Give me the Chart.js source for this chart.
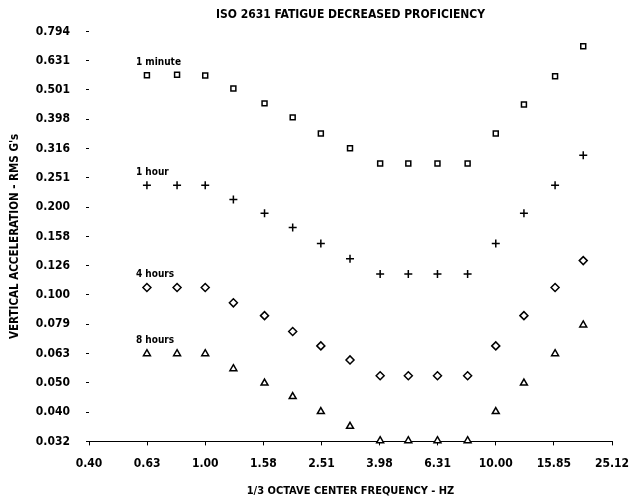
<!DOCTYPE html>
<html>
<head>
<meta charset="utf-8">
<script src="https://cdn.jsdelivr.net/npm/chart.js@4/dist/chart.umd.min.js"></script>
<style>
    html, body { margin: 0; padding: 0; background: #fff; }
    #wrap { width: 634px; height: 500px; }
</style>
</head>
<body>
<div id="wrap"><canvas id="fdp"></canvas></div>
<script>
// 1/3 octave centre frequencies (Hz)
const frequencies = [0.63, 0.8, 1.0, 1.25, 1.6, 2.0, 2.5, 3.15, 4.0, 5.0, 6.3, 8.0, 10.0, 12.5, 16.0, 20.0];

// exposure limits, RMS G's
const oneMinute = [0.563, 0.565, 0.562, 0.507, 0.451, 0.404, 0.356, 0.317, 0.281, 0.281, 0.281, 0.281, 0.356, 0.447, 0.558, 0.707];
const oneHour = [0.237, 0.237, 0.237, 0.212, 0.190, 0.170, 0.150, 0.133, 0.118, 0.118, 0.118, 0.118, 0.150, 0.190, 0.237, 0.300];
const fourHours = [0.106, 0.106, 0.106, 0.094, 0.085, 0.075, 0.067, 0.060, 0.053, 0.053, 0.053, 0.053, 0.067, 0.085, 0.106, 0.131];
const eightHours = [0.063, 0.063, 0.063, 0.056, 0.050, 0.045, 0.040, 0.0356, 0.0318, 0.0318, 0.0318, 0.0318, 0.040, 0.050, 0.063, 0.079];

const seriesNames = ['1 minute', '1 hour', '4 hours', '8 hours'];

// axis ticks
const xTickValues = [0.3981, 0.631, 1.0, 1.585, 2.512, 3.981, 6.31, 10.0, 15.85, 25.12];
const xTickLabels = ['0.40', '0.63', '1.00', '1.58', '2.51', '3.98', '6.31', '10.00', '15.85', '25.12'];
const yTickValues = [0.03162, 0.03981, 0.05012, 0.0631, 0.07943, 0.1, 0.1259, 0.1585, 0.1995, 0.2512, 0.3162, 0.3981, 0.5012, 0.631, 0.7943];
const yTickLabels = ['0.032', '0.040', '0.050', '0.063', '0.079', '0.100', '0.126', '0.158', '0.200', '0.251', '0.316', '0.398', '0.501', '0.631', '0.794'];

const FONT = '"DejaVu Sans Condensed", "Liberation Sans Narrow", "DejaVu Sans", sans-serif';

class FatigueChart {
    constructor(canvasId) {
        this.canvas = document.getElementById(canvasId);
        this.init();
    }

    init() {
        const styles = [
            { pointStyle: 'rect', radius: 3.5 },
            { pointStyle: 'cross', radius: 4 },
            { pointStyle: 'rectRot', radius: 4 },
            { pointStyle: 'triangle', radius: 4 }
        ];
        const values = [oneMinute, oneHour, fourHours, eightHours];

        const datasets = values.map((series, i) => ({
            label: seriesNames[i],
            data: series.map((v, j) => ({ x: frequencies[j], y: v })),
            showLine: false,
            pointStyle: styles[i].pointStyle,
            pointRadius: styles[i].radius,
            pointBorderWidth: 1.5,
            pointBorderColor: '#000',
            pointBackgroundColor: '#fff',
            clip: false
        }));

        new Chart(this.canvas, {
            type: 'scatter',
            data: { datasets },
            options: {
                responsive: true,
                maintainAspectRatio: false,
                animation: false,
                layout: { padding: { left: 4, right: 22, top: 0, bottom: 2 } },
                plugins: {
                    legend: { display: false },
                    tooltip: { enabled: false },
                    title: {
                        display: true,
                        fullSize: false,
                        text: 'ISO 2631 FATIGUE DECREASED PROFICIENCY',
                        color: '#000',
                        font: { family: FONT, size: 12, weight: 'bold' },
                        padding: { top: 8, bottom: 9 }
                    }
                },
                scales: {
                    x: {
                        type: 'logarithmic',
                        min: xTickValues[0],
                        max: xTickValues[xTickValues.length - 1],
                        afterBuildTicks: scale => {
                            scale.ticks = xTickValues.map(v => ({ value: v }));
                        },
                        afterFit: scale => {
                            // let the last tick label hang into the right margin
                            scale.paddingRight = 0;
                        },
                        ticks: {
                            autoSkip: false,
                            maxRotation: 0,
                            padding: 11,
                            color: '#000',
                            font: { family: FONT, size: 12, weight: 'bold' },
                            callback: (value, index) => xTickLabels[index]
                        },
                        grid: { drawOnChartArea: false, tickLength: 4, color: '#000' },
                        border: { display: true, color: '#000', width: 1, dash: [6, 3] },
                        title: {
                            display: true,
                            text: '1/3 OCTAVE CENTER FREQUENCY - HZ',
                            color: '#000',
                            font: { family: FONT, size: 11, weight: 'bold' },
                            padding: { top: 3, bottom: 0 }
                        }
                    },
                    y: {
                        type: 'logarithmic',
                        min: yTickValues[0],
                        max: yTickValues[yTickValues.length - 1],
                        afterBuildTicks: scale => {
                            scale.ticks = yTickValues.map(v => ({ value: v }));
                        },
                        afterFit: scale => {
                            scale.width = 85;
                        },
                        ticks: {
                            autoSkip: false,
                            padding: 16,
                            color: '#000',
                            font: { family: FONT, size: 12, weight: 'bold' },
                            callback: (value, index) => yTickLabels[index]
                        },
                        grid: { drawOnChartArea: false, tickLength: 3, color: '#000' },
                        border: { display: false },
                        title: {
                            display: true,
                            text: "VERTICAL ACCELERATION - RMS G's",
                            color: '#000',
                            font: { family: FONT, size: 11.5, weight: 'bold' },
                            padding: { top: 4, bottom: 0 }
                        }
                    }
                }
            },
            plugins: [this.seriesLabels()]
        });
    }

    // text tag above the first point of each curve
    seriesLabels() {
        return {
            id: 'seriesLabels',
            afterDatasetsDraw(chart) {
                const { ctx, scales } = chart;
                ctx.save();
                ctx.fillStyle = '#000';
                ctx.font = 'bold 10px ' + FONT;
                ctx.textAlign = 'left';
                ctx.textBaseline = 'middle';
                chart.data.datasets.forEach(ds => {
                    const first = ds.data[0];
                    const px = scales.x.getPixelForValue(first.x);
                    const py = scales.y.getPixelForValue(first.y);
                    ctx.fillText(ds.label, px - 11, py - 13);
                });
                ctx.restore();
            }
        };
    }
}

const fatigueChart = new FatigueChart('fdp');
</script>
</body>
</html>
